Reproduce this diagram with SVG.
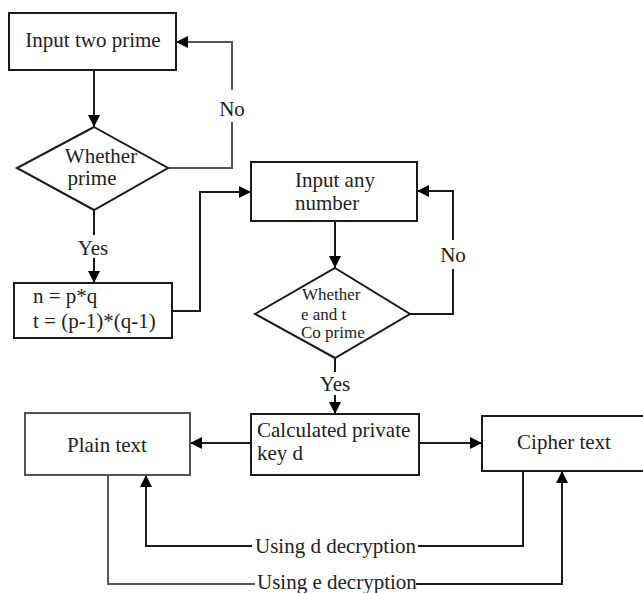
<svg xmlns="http://www.w3.org/2000/svg" width="643" height="593" viewBox="0 0 643 593">
<style>
.box{fill:#fff;stroke:#1a1a1a;stroke-width:2}
.gbox{fill:#fff;stroke:#555;stroke-width:2}
.ln{fill:none;stroke:#1a1a1a;stroke-width:2}
.gln{fill:none;stroke:#555;stroke-width:2}
text{font-family:"Liberation Serif","Times New Roman",serif;font-size:21px;fill:#222}
.sm{font-size:17px}
</style>
<defs>
<marker id="ah" viewBox="0 0 12 12" markerUnits="userSpaceOnUse" markerWidth="12" markerHeight="12" refX="12" refY="6" orient="auto">
<path d="M0,0 L12,6 L0,12 z" fill="#000"/>
</marker>
</defs>
<g id="connectors">
<path class="ln" d="M94,70 V127" marker-end="url(#ah)"/>
<path class="gln" d="M168,168 H232 V122"/>
<path class="gln" d="M232,90 V42 H176" marker-end="url(#ah)"/>
<path class="ln" d="M94,210 V235"/>
<path class="ln" d="M94,258 V283" marker-end="url(#ah)"/>
<path class="ln" d="M172,311 H200 V192 H251" marker-end="url(#ah)"/>
<path class="ln" d="M335,221 V268" marker-end="url(#ah)"/>
<path class="ln" d="M410,314 H453 V269"/>
<path class="ln" d="M453,240 V191 H417" marker-end="url(#ah)"/>
<path class="ln" d="M335,358 V372"/>
<path class="ln" d="M335,395 V414" marker-end="url(#ah)"/>
<path class="ln" d="M251,443 H190" marker-end="url(#ah)"/>
<path class="ln" d="M419,443 H482" marker-end="url(#ah)"/>
<path class="ln" d="M523,471 V546 H418"/>
<path class="ln" d="M252,546 H146 V475" marker-end="url(#ah)"/>
<path class="gln" d="M108,475 V584 H255"/>
<path class="ln" d="M416,584 H562 V471" marker-end="url(#ah)"/>
<text x="232" y="116" text-anchor="middle">No</text>
<text x="93" y="255" text-anchor="middle">Yes</text>
<text x="453" y="262" text-anchor="middle">No</text>
<text x="335" y="391" text-anchor="middle">Yes</text>
<text x="255" y="553">Using d decryption</text>
<text x="257" y="589">Using e decryption</text>
</g>
<g id="input-two-prime">
<rect class="box" x="9" y="13" width="167" height="57"/>
<text x="93" y="47" text-anchor="middle">Input two prime</text>
</g>
<g id="whether-prime">
<polygon class="box" points="94,127 168,168 94,210 17,168"/>
<text x="101" y="163" text-anchor="middle">Whether</text>
<text x="92" y="185" text-anchor="middle">prime</text>
</g>
<g id="compute-n-t">
<rect class="box" x="14" y="283" width="158" height="55"/>
<text x="33" y="303">n = p*q</text>
<text x="33" y="328">t = (p-1)*(q-1)</text>
</g>
<g id="input-any-number">
<rect class="box" x="251" y="162" width="166" height="59"/>
<text x="295" y="187">Input any</text>
<text x="295" y="210">number</text>
</g>
<g id="whether-coprime">
<polygon class="box" points="335,268 410,314 335,358 255,314"/>
<text x="302" y="300" class="sm">Whether</text>
<text x="301" y="320" class="sm">e and t</text>
<text x="301" y="338" class="sm">Co prime</text>
</g>
<g id="private-key">
<rect class="box" x="251" y="414" width="168" height="61"/>
<text x="257" y="437">Calculated private</text>
<text x="257" y="460">key d</text>
</g>
<g id="plain-text">
<rect class="gbox" x="25" y="413" width="165" height="62"/>
<text x="107" y="452" text-anchor="middle">Plain text</text>
</g>
<g id="cipher-text">
<rect class="box" x="482" y="416" width="165" height="55"/>
<text x="564" y="449" text-anchor="middle">Cipher text</text>
</g>
</svg>
